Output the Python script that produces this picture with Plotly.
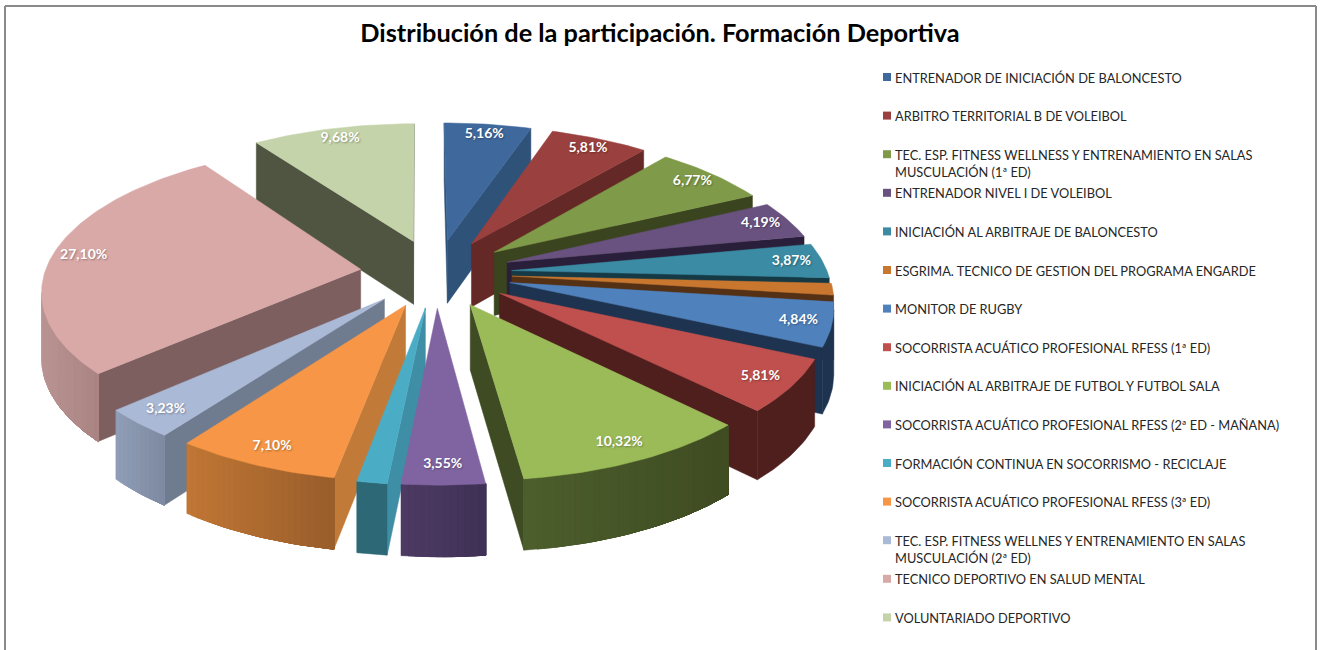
import math
import plotly.graph_objects as go

title = "Distribución de la participación. Formación Deportiva"
categories = [
    "ENTRENADOR DE INICIACIÓN DE BALONCESTO",
    "ARBITRO TERRITORIAL B DE VOLEIBOL",
    "TEC. ESP. FITNESS WELLNESS Y ENTRENAMIENTO EN SALAS<br>MUSCULACIÓN (1ª ED)",
    "ENTRENADOR NIVEL I DE VOLEIBOL",
    "INICIACIÓN AL ARBITRAJE DE BALONCESTO",
    "ESGRIMA. TECNICO DE GESTION DEL PROGRAMA ENGARDE",
    "MONITOR DE RUGBY",
    "SOCORRISTA ACUÁTICO PROFESIONAL RFESS (1ª ED)",
    "INICIACIÓN AL ARBITRAJE DE FUTBOL Y FUTBOL SALA",
    "SOCORRISTA ACUÁTICO PROFESIONAL RFESS (2ª ED - MAÑANA)",
    "FORMACIÓN CONTINUA EN SOCORRISMO - RECICLAJE",
    "SOCORRISTA ACUÁTICO PROFESIONAL RFESS (3ª ED)",
    "TEC. ESP. FITNESS WELLNES Y ENTRENAMIENTO EN SALAS<br>MUSCULACIÓN (2ª ED)",
    "TECNICO DEPORTIVO EN SALUD MENTAL",
    "VOLUNTARIADO DEPORTIVO",
]
values = [5.16, 5.81, 6.77, 4.19, 3.87, 1.29, 4.84, 5.81, 10.32, 3.55, 1.29, 7.10, 3.23, 27.10, 9.68]
shown_labels = [True, True, True, True, True, False, True, True, True, True, False, True, True, True, True]

top_colors = ["#3F689C", "#9A403E", "#7F9A48", "#69527F", "#3A8BA3", "#C9772F", "#4F81BD", "#C0504D",
              "#9BBB59", "#8064A2", "#4BACC6", "#F79646", "#AAB9D6", "#D9A9A8", "#C4D3A9"]
face_colors = ["#2F5279", "#642826", "#3A441E", "#2A1F3A", "#153A45", "#543014", "#1D3350", "#4F1F1E",
               "#3F4B22", "#4A3860", "#3E8EA5", "#C27A38", "#6F7B8E", "#7D5F5F", "#4F5541"]
rim_left = ["#2F5279", "#642826", "#3A441E", "#2A1F3A", "#153A45", "#543014", "#1D3350", "#4F1F1E",
            "#4C5E2C", "#4D3A63", "#2D6877", "#C07634", "#909DB6", "#BA9493", "#4F5541"]
rim_right = ["#2F5279", "#642826", "#3A441E", "#2A1F3A", "#153A45", "#543014", "#1D3350", "#4F1F1E",
             "#3F4B22", "#3F3055", "#2D6877", "#985D2B", "#7C89A0", "#A88382", "#4F5541"]

# Projection settings of the exploded, perspective pie
CX, CY, R, EXPLODE, VIEW, TILT, DEPTH, SKEW = 436, 273, 316, 76, 2300, 0.449, 64, 0.006


def project(X, Y):
    s = 1 / (1 - Y / VIEW)
    return CX + X * s + SKEW * Y, CY + TILT * Y * s, DEPTH * s ** 0.6


def hex_mix(a, b, t):
    ca = [int(a[i:i + 2], 16) for i in (1, 3, 5)]
    cb = [int(b[i:i + 2], 16) for i in (1, 3, 5)]
    return "rgb(%d,%d,%d)" % tuple(round(p + (q - p) * t) for p, q in zip(ca, cb))


def slice_points(start, end):
    """Rim of one slice as plane coordinates; angles are clockwise from 12 o'clock."""
    mid = (start + end) / 2
    ox, oy = EXPLODE * math.sin(mid), -EXPLODE * math.cos(mid)
    n = max(2, int(math.degrees(end - start) / 1.0))
    rim = []
    for i in range(n + 1):
        a = start + (end - start) * i / n
        rim.append((ox + R * math.sin(a), oy - R * math.cos(a)))
    return (ox, oy), rim


def polygon_trace(xs, ys, color):
    return go.Scatter(x=xs + xs[:1], y=ys + ys[:1], mode="lines", fill="toself", fillcolor=color,
                      line=dict(color=color, width=0.5), hoverinfo="skip", showlegend=False)


def wall_visible(p, q, cen):
    # The wall below edge p-q shows when the top face lies above that edge
    if abs(q[0] - p[0]) < 1e-6:
        return False
    yedge = p[1] + (q[1] - p[1]) * (cen[0] - p[0]) / (q[0] - p[0])
    return cen[1] < yedge


def wall_polygon(points):
    xs = [p[0] for p in points] + [p[0] for p in reversed(points)]
    ys = [p[1] for p in points] + [p[1] + p[2] for p in reversed(points)]
    return xs, ys


total = sum(values)
slices = []
cum = 0.0
for i, v in enumerate(values):
    start = cum / total * 2 * math.pi
    cum += v
    end = cum / total * 2 * math.pi
    apex, rim = slice_points(start, end)
    plane_mid = rim[len(rim) // 2]
    depth_key = (apex[1] + plane_mid[1]) / 2
    slices.append((depth_key, i, start, end, apex, rim))

traces = []
for _, i, start, end, apex, rim in sorted(slices, key=lambda t: t[0]):
    top = [project(*apex)] + [project(*p) for p in rim]
    cen = (sum(p[0] for p in top) / len(top), sum(p[1] for p in top) / len(top))
    # radial faces
    for a, b in ((top[0], top[1]), (top[0], top[-1])):
        if wall_visible(a, b, cen):
            xs, ys = wall_polygon([a, b])
            traces.append(polygon_trace(xs, ys, face_colors[i]))
    # outer rim, shaded from left to right: bands overlap towards the right so no seams show
    visible = [k for k in range(1, len(top) - 1) if wall_visible(top[k], top[k + 1], cen)]
    if visible:
        pts = [top[k] for k in visible] + [top[visible[-1] + 1]]
        pts.sort(key=lambda p: p[0])
        same = rim_left[i] == rim_right[i]
        bands = 1 if same else max(2, min(24, len(pts) - 1))
        xlo, xhi = pts[0][0], pts[-1][0]
        for b in range(bands):
            j = round(b * (len(pts) - 1) / bands)
            xs, ys = wall_polygon(pts[j:])
            t = (pts[j][0] - xlo) / max(xhi - xlo, 1)
            traces.append(polygon_trace(xs, ys, hex_mix(rim_left[i], rim_right[i], t)))
    traces.append(polygon_trace([p[0] for p in top], [p[1] for p in top], top_colors[i]))

# Data labels
lx, ly, lt = [], [], []
for _, i, start, end, apex, rim in slices:
    if not shown_labels[i]:
        continue
    mid = (start + end) / 2
    X = (EXPLODE + 0.9 * R) * math.sin(mid)
    Y = -(EXPLODE + 0.9 * R) * math.cos(mid)
    px, py, _d = project(X, Y)
    lx.append(px)
    ly.append(py)
    lt.append(f"{values[i]:.2f}%".replace(".", ","))
traces.append(go.Scatter(x=lx, y=ly, text=lt, mode="text", hoverinfo="skip", showlegend=False,
                         textfont=dict(family="Lato", size=14, color="white", weight="bold",
                                       shadow="1px 1px 2px rgba(0,0,0,0.3)")))

# Legend, on a fixed rhythm as in the source
LEG_TOP, LEG_STEP, LEG_MX, LEG_TX = 77, 38.6, 887, 893.5
leg_y = [LEG_TOP + LEG_STEP * k for k in range(len(categories))]
traces.append(go.Scatter(x=[LEG_MX] * len(categories), y=leg_y, mode="markers", hoverinfo="skip", showlegend=False,
                         marker=dict(symbol="square", size=8, color=top_colors, line=dict(width=0))))

annotations = [dict(x=LEG_TX, y=y - 8.5, xref="x", yref="y", text=c, showarrow=False, xanchor="left",
                    yanchor="top", align="left", borderpad=0,
                    font=dict(family="Lato", size=12.8, color="#262626"))
               for c, y in zip(categories, leg_y)]

border = [dict(type="line", x0=a, y0=b, x1=c, y1=d, xref="x", yref="y", line=dict(color="#8A8A8A", width=2))
          for a, b, c, d in ((5, 650, 5, 6), (5, 6, 1316, 6), (1316, 6, 1316, 650))]

fig = go.Figure(traces)
fig.update_layout(
    width=1320, height=650, margin=dict(l=0, r=0, t=0, b=0),
    paper_bgcolor="white", plot_bgcolor="white", showlegend=False,
    title=dict(text=title, x=0.5, xanchor="center", y=0.949, yanchor="middle",
               font=dict(family="Lato", size=25.3, color="black", weight="bold")),
    xaxis=dict(range=[0, 1320], visible=False, fixedrange=True),
    yaxis=dict(range=[650, 0], visible=False, fixedrange=True),
    annotations=annotations, shapes=border,
)
fig.write_html("out.html", config={"displayModeBar": False},
               post_script="document.body.style.margin='0';")
